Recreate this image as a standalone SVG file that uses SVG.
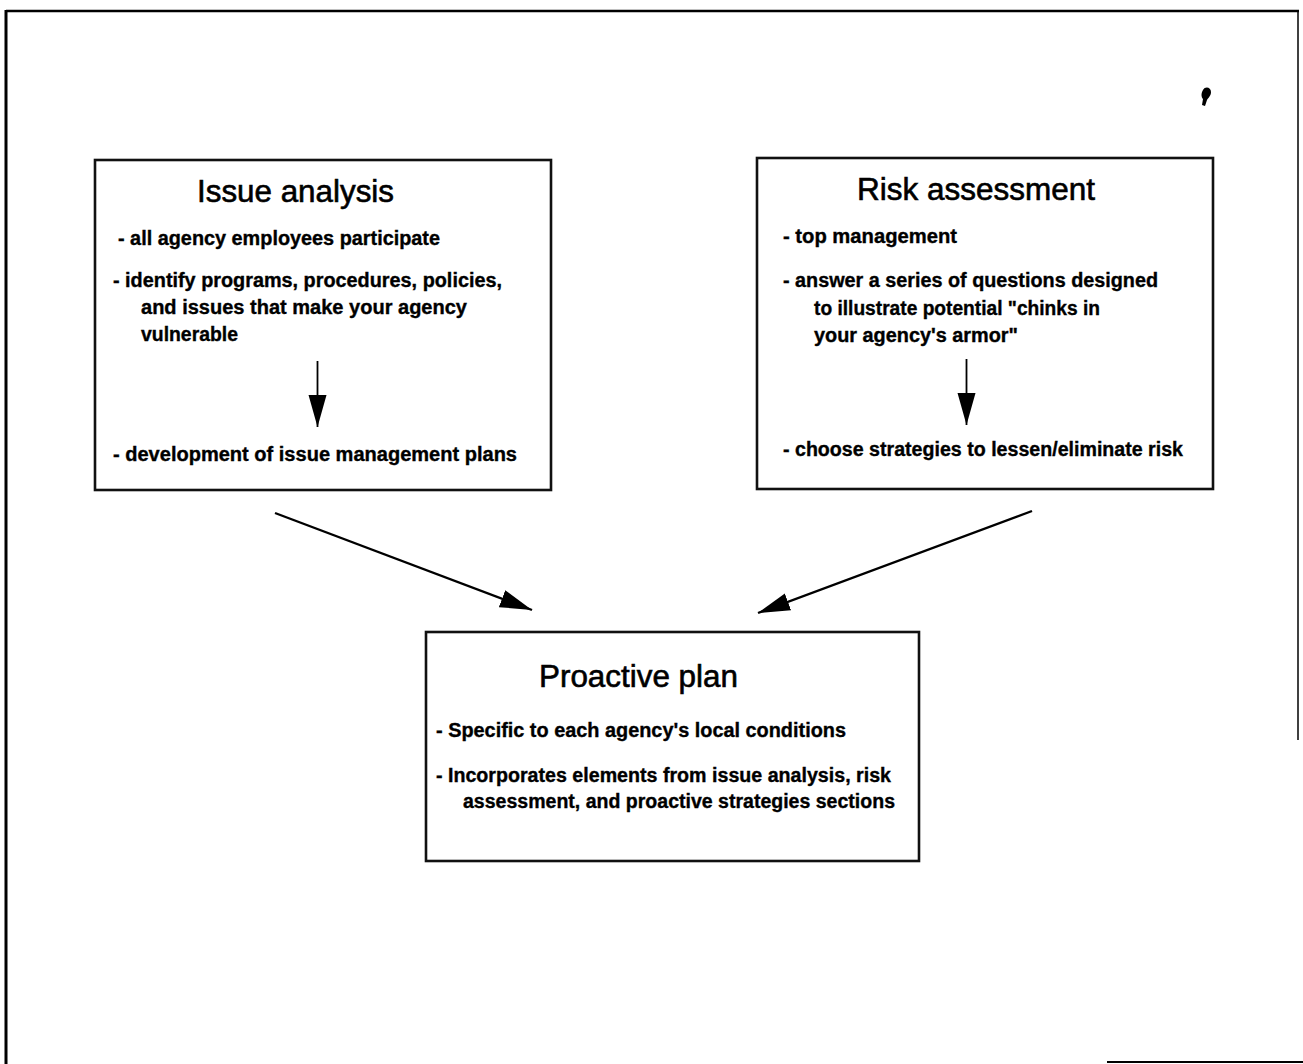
<svg xmlns="http://www.w3.org/2000/svg" width="1303" height="1064" viewBox="0 0 1303 1064">
  <style>
    .frame { fill: none; stroke: #000; }
    .box { fill: #fff; stroke: #111; stroke-width: 2.6; }
    .title { font-family: "Liberation Sans", Arial, Helvetica, sans-serif; font-size: 31px; fill: #000; stroke: #000; stroke-width: 0.6; }
    .body { font-family: "Liberation Sans", Arial, Helvetica, sans-serif; font-size: 19.5px; font-weight: bold; fill: #000; stroke: #000; stroke-width: 0.35; }
    .conn { fill: none; stroke: #000; stroke-width: 2.4; }
    .vconn { fill: none; stroke: #000; stroke-width: 1.8; }
  </style>
  <defs>
    <marker id="head" markerUnits="userSpaceOnUse" markerWidth="34" markerHeight="19" refX="32" refY="9.5" orient="auto" viewBox="0 0 34 19">
      <path d="M0,0.5 L32,9.5 L0,18.5 Z" fill="#000"/>
    </marker>
  </defs>
  <rect width="1303" height="1064" fill="#fff"/>

  <g id="page-frame">
    <line class="frame" x1="6" y1="11" x2="1299" y2="11" stroke-width="2.6"/>
    <line class="frame" x1="6" y1="10" x2="6" y2="1064" stroke-width="3"/>
    <line class="frame" x1="1298" y1="10" x2="1298" y2="740" stroke-width="1.5" stroke="#555"/>
    <line class="frame" x1="1107" y1="1062" x2="1303" y2="1062" stroke-width="2.2"/>
    <path d="M1203,90 C1205,86 1211,87 1211,92 C1211,96 1208,98 1207,100 L1205,106 L1202,105 L1203,99 C1201,97 1201,93 1203,90 Z" fill="#000"/>
  </g>

  <g id="issue-analysis">
    <rect class="box" x="95" y="160" width="456" height="330"/>
    <text class="title" x="197" y="202" textLength="197" lengthAdjust="spacingAndGlyphs">Issue analysis</text>
    <text class="body" x="118" y="245" textLength="322" lengthAdjust="spacingAndGlyphs">- all agency employees participate</text>
    <text class="body" x="113" y="287" textLength="389" lengthAdjust="spacingAndGlyphs">- identify programs, procedures, policies,</text>
    <text class="body" x="141" y="314" textLength="326" lengthAdjust="spacingAndGlyphs">and issues that make your agency</text>
    <text class="body" x="141" y="341" textLength="97" lengthAdjust="spacingAndGlyphs">vulnerable</text>
    <line class="vconn" x1="317.5" y1="361" x2="317.5" y2="427" marker-end="url(#head)"/>
    <text class="body" x="113" y="461" textLength="404" lengthAdjust="spacingAndGlyphs">- development of issue management plans</text>
  </g>

  <g id="risk-assessment">
    <rect class="box" x="757" y="158" width="456" height="331"/>
    <text class="title" x="857" y="200" textLength="238" lengthAdjust="spacingAndGlyphs">Risk assessment</text>
    <text class="body" x="783" y="243" textLength="174" lengthAdjust="spacingAndGlyphs">- top management</text>
    <text class="body" x="783" y="287" textLength="375" lengthAdjust="spacingAndGlyphs">- answer a series of questions designed</text>
    <text class="body" x="814" y="315" textLength="286" lengthAdjust="spacingAndGlyphs">to illustrate potential "chinks in</text>
    <text class="body" x="814" y="342" textLength="204" lengthAdjust="spacingAndGlyphs">your agency's armor"</text>
    <line class="vconn" x1="966.5" y1="359" x2="966.5" y2="425" marker-end="url(#head)"/>
    <text class="body" x="783" y="456" textLength="400" lengthAdjust="spacingAndGlyphs">- choose strategies to lessen/eliminate risk</text>
  </g>

  <g id="proactive-plan">
    <rect class="box" x="426" y="632" width="493" height="229"/>
    <text class="title" x="539" y="687" textLength="199" lengthAdjust="spacingAndGlyphs">Proactive plan</text>
    <text class="body" x="436" y="737" textLength="410" lengthAdjust="spacingAndGlyphs">- Specific to each agency's local conditions</text>
    <text class="body" x="436" y="782" textLength="455" lengthAdjust="spacingAndGlyphs">- Incorporates elements from issue analysis, risk</text>
    <text class="body" x="463" y="808" textLength="432" lengthAdjust="spacingAndGlyphs">assessment, and proactive strategies sections</text>
  </g>

  <g id="connectors">
    <line class="conn" x1="275" y1="513" x2="532" y2="610" marker-end="url(#head)"/>
    <line class="conn" x1="1032" y1="511" x2="758" y2="613" marker-end="url(#head)"/>
  </g>
</svg>
